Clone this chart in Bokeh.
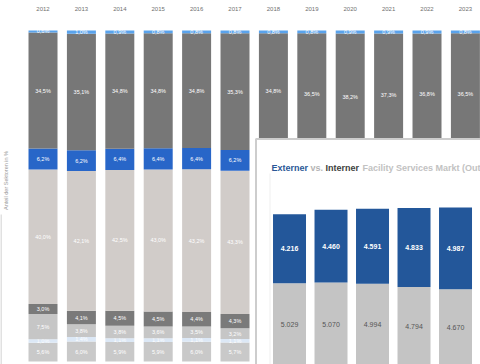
import numpy as np
from bokeh.plotting import figure
from bokeh.models import Range1d, ColumnDataSource, Label
from bokeh.core.properties import value
from bokeh.embed import file_html
from bokeh.resources import INLINE

# ---------------- data: main chart (share of sectors, %) ----------------
years = ["2012", "2013", "2014", "2015", "2016", "2017",
         "2018", "2019", "2020", "2021", "2022", "2023"]
seg_sonstige   = [5.6, 6.0, 5.9, 5.9, 6.0, 5.7, 5.8, 5.6, 5.4, 5.4, 5.5, 5.5]
seg_hellblau   = [1.0, 1.4, 1.1, 1.1, 1.1, 1.1, 1.1, 1.1, 1.0, 1.0, 1.0, 1.0]
seg_hellgrau   = [7.5, 3.8, 3.8, 3.6, 3.5, 3.2, 3.2, 3.1, 3.0, 3.0, 3.0, 3.0]
seg_grau_klein = [3.0, 4.1, 4.5, 4.5, 4.4, 4.3, 4.3, 4.2, 4.1, 4.1, 4.2, 4.2]
seg_beige      = [40.0, 42.1, 42.5, 43.0, 43.2, 43.3, 43.8, 42.6, 41.2, 42.0, 42.4, 42.7]
seg_blau       = [6.2, 6.2, 6.4, 6.4, 6.4, 6.2, 6.2, 6.1, 6.2, 6.3, 6.2, 6.3]
seg_dunkelgrau = [34.5, 35.1, 34.8, 34.8, 34.8, 35.3, 34.8, 36.5, 38.2, 37.3, 36.8, 36.5]
seg_oben       = [0.6, 1.0, 0.9, 0.8, 0.8, 0.8, 0.8, 0.8, 0.9, 0.9, 0.9, 0.8]

segments = [seg_sonstige, seg_hellblau, seg_hellgrau, seg_grau_klein,
            seg_beige, seg_blau, seg_dunkelgrau, seg_oben]
seg_colors = ["#c9c9c9", "#dce8f6", "#c6c6c6", "#7a7a7a",
              "#d1ccc9", "#2866c8", "#777777", "#5aa3ec"]

# ---------------- data: inset chart (Mio. EUR) ----------------
inset_years = ["2012", "2013", "2014", "2015", "2016", "2017"]
extern = [4216, 4460, 4591, 4833, 4987, 5150]
intern = [5029, 5070, 4994, 4794, 4670, 4560]
inset_labelled = 5   # only the first five bars are inside the visible crop

FONT = value("Liberation Sans")

p = figure(width=480, height=364,
           x_range=Range1d(-1.107, 11.393), y_range=Range1d(-0.906, 109.06),
           output_backend="svg", toolbar_location=None,
           x_axis_location=None, y_axis_location=None,
           min_border=0, outline_line_color=None, background_fill_color="white")
p.grid.visible = False
p.extra_x_ranges = {"px": Range1d(0, 480), "ix": Range1d(-6.964, 4.602)}
p.extra_y_ranges = {"py": Range1d(364, 0), "iy": Range1d(61.2, 22324)}

# ---- main stacked bars (normalised to 100 %) ----
idx = np.arange(len(years))
vals = np.array(segments, dtype=float)
shares = vals / vals.sum(axis=0) * 100.0
tops = np.cumsum(shares, axis=0)
bottoms = tops - shares

for k in range(len(segments)):
    src = ColumnDataSource(dict(
        x=idx, bottom=bottoms[k], top=tops[k],
        mid=(bottoms[k] + tops[k]) / 2,
        lab=[f"{v:.1f}%".replace(".", ",") for v in segments[k]]))
    p.vbar(x="x", bottom="bottom", top="top", width=0.755, source=src,
           fill_color=seg_colors[k], line_color=None)
    p.text(x="x", y="mid", text="lab", source=src, text_font=FONT,
           text_font_size="5.5px", text_color="white",
           text_align="center", text_baseline="middle")

# year labels above the bars
ysrc = ColumnDataSource(dict(x=idx, y=[8] * len(years), t=years))
p.text(x="x", y="y", text="t", source=ysrc, y_range_name="py",
       text_font=FONT, text_font_size="6px", text_color="#707070",
       text_align="center", text_baseline="middle")

# y axis title
p.add_layout(Label(x=5, y=180, x_range_name="px", y_range_name="py",
                   text="Anteil der Sektoren in %", angle=np.pi / 2,
                   text_font="Liberation Sans", text_font_size="5.5px",
                   text_color="#9a9a9a", text_align="center",
                   text_baseline="middle"))
p.segment(x0=[0.5], y0=[214], x1=[0.5], y1=[364], x_range_name="px",
          y_range_name="py", line_color="#c4c4c4", line_width=1)

# ---- inset panel ----
p.quad(left=[255.5], right=[495], top=[138.5], bottom=[380],
       x_range_name="px", y_range_name="py",
       fill_color="white", line_color="#cdcdcd", line_width=2)
p.segment(x0=[269.5], y0=[173], x1=[269.5], y1=[364], x_range_name="px",
          y_range_name="py", line_color="#efefef", line_width=1)

title_parts = [("Externer", "#2b5797", 271),
               ("vs.", "#b4b4b4", 310),
               ("Interner", "#404040", 325),
               ("Facility Services Markt (Outsourcing)", "#c2c2c2", 362)]
for txt, col, xpos in title_parts:
    p.add_layout(Label(x=xpos, y=167, x_range_name="px", y_range_name="py",
                       text=txt, text_font="Liberation Sans",
                       text_font_size="9px", text_font_style="bold",
                       text_color=col, text_baseline="alphabetic",
                       text_align="left"))

iidx = np.arange(len(inset_years))
ext = np.array(extern, dtype=float)
inn = np.array(intern, dtype=float)
isrc = ColumnDataSource(dict(x=iidx, b0=np.zeros(len(iidx)), t0=inn, t1=inn + ext))
p.vbar(x="x", bottom="b0", top="t0", width=0.795, source=isrc,
       x_range_name="ix", y_range_name="iy",
       fill_color="#c4c4c4", line_color=None)
p.vbar(x="x", bottom="t0", top="t1", width=0.795, source=isrc,
       x_range_name="ix", y_range_name="iy",
       fill_color="#23579a", line_color=None)

n = inset_labelled
lsrc = ColumnDataSource(dict(
    x=iidx[:n], m0=inn[:n] / 2, m1=inn[:n] + ext[:n] / 2,
    l0=[f"{v:,}".replace(",", ".") for v in intern[:n]],
    l1=[f"{v:,}".replace(",", ".") for v in extern[:n]]))
p.text(x="x", y="m0", text="l0", source=lsrc, x_range_name="ix",
       y_range_name="iy", text_font=FONT, text_font_size="7px",
       text_color="#555555", text_align="center", text_baseline="middle")
p.text(x="x", y="m1", text="l1", source=lsrc, x_range_name="ix",
       y_range_name="iy", text_font=FONT, text_font_size="7px",
       text_font_style="bold", text_color="white",
       text_align="center", text_baseline="middle")

open("out.html", "w").write(file_html(p, INLINE))
